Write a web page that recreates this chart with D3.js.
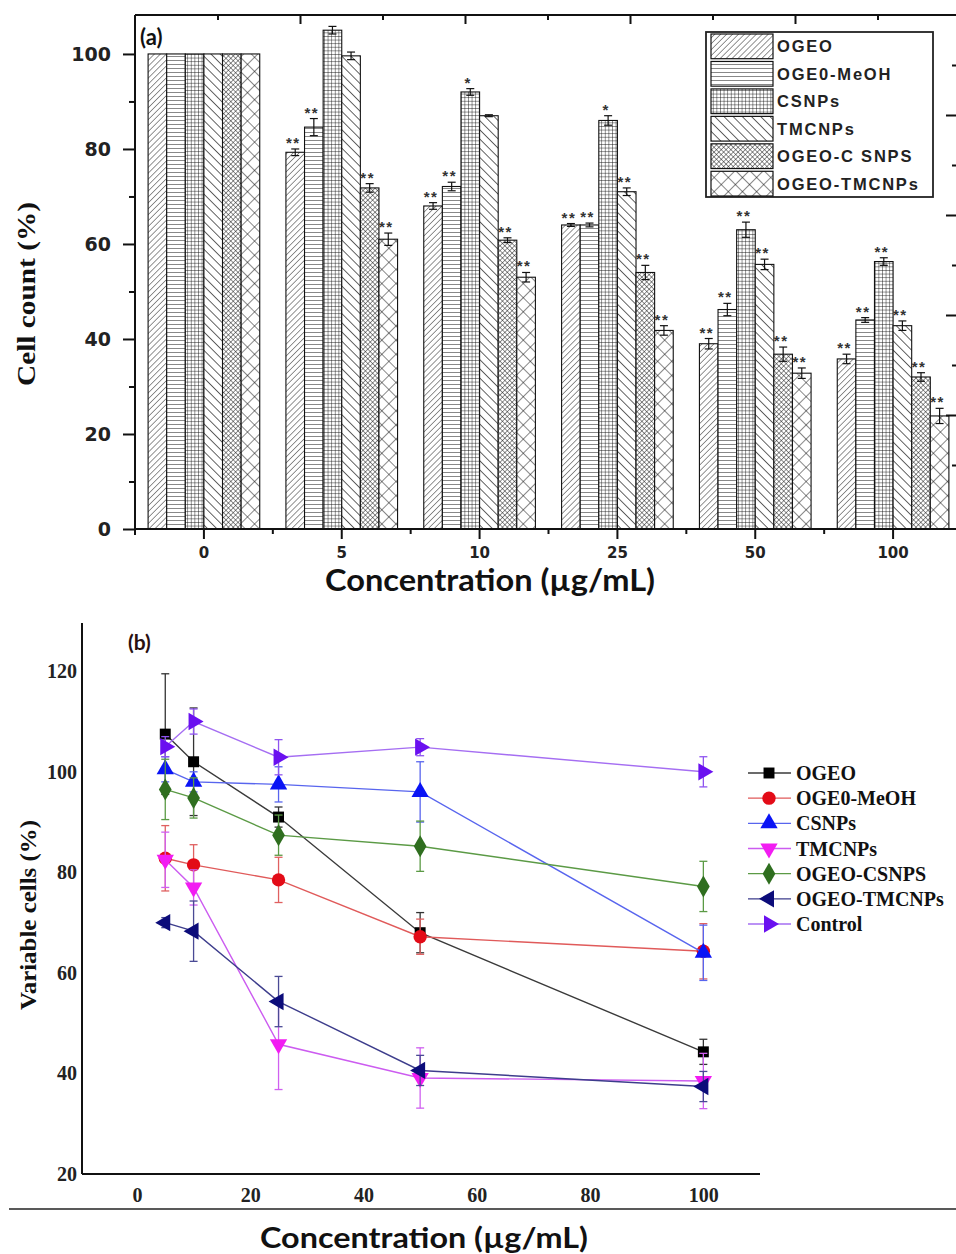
<!DOCTYPE html>
<html><head><meta charset="utf-8">
<script src="https://cdn.jsdelivr.net/npm/d3@7"></script>
<style>html,body{margin:0;padding:0;background:#fff;}svg{display:block;}</style>
</head><body>
<svg id="chart" width="956" height="1254"></svg>
<script>
// ---------- Panel (a) data ----------
const concA = ["0", "5", "10", "25", "50", "100"];
const seriesA = ["OGEO", "OGE0-MeOH", "CSNPs", "TMCNPs", "OGEO-C SNPS", "OGEO-TMCNPs"];
const valOGEO   = [100, 79.3, 68,   64,   39,   35.8];
const valMeOH   = [100, 84.6, 72.1, 64,   46.2, 44];
const valCSNPs  = [100, 105,  92,   86,   63,   56.3];
const valTMCNPs = [100, 99.6, 87,   71,   55.7, 42.8];
const valOCS    = [100, 71.8, 60.8, 54,   36.8, 32];
const valOTM    = [100, 61,   53,   41.8, 32.8, 23.8];
const errOGEO   = [0, 0.7, 0.7, 0.3, 1.1, 1.0];
const errMeOH   = [0, 1.8, 0.9, 0.4, 1.3, 0.5];
const errCSNPs  = [0, 0.8, 0.7, 1.0, 1.6, 0.8];
const errTMCNPs = [0, 0.8, 0.2, 0.8, 1.1, 1.0];
const errOCS    = [0, 0.9, 0.5, 1.5, 1.5, 0.9];
const errOTM    = [0, 1.3, 1.0, 1.0, 1.1, 1.6];
const starsA = [
  ["", "", "", "", "", ""],
  ["**", "**", "", "", "**", "**"],
  ["**", "**", "*", "", "**", "**"],
  ["**", "**", "*", "**", "**", "**"],
  ["**", "**", "**", "**", "**", "**"],
  ["**", "**", "**", "**", "**", "**"]
];
const yTicksA = [0, 20, 40, 60, 80, 100];

// ---------- Panel (b) data ----------
const concB = [5, 10, 25, 50, 100];
const seriesB = ["OGEO", "OGE0-MeOH", "CSNPs", "TMCNPs", "OGEO-CSNPS", "OGEO-TMCNPs", "Control"];
const bOGEO   = [107.5, 102,  91,   68,   44.3];
const bMeOH   = [82.8,  81.5, 78.5, 67.2, 64.3];
const bCSNPs  = [100.5, 98,   97.5, 96,   64];
const bTMCNPs = [82.5,  77,   45.8, 39.1, 38.5];
const bOCS    = [96.5,  94.8, 87.4, 85.2, 77.2];
const bOTM    = [70,    68.3, 54.3, 40.6, 37.4];
const bCtrl   = [105,   110,  102.9, 104.9, 100];
const eOGEO   = [12, 10.7, 2, 4, 2.5];
const eMeOH   = [6.5, 4, 4.5, 3.5, 5.5];
const eCSNPs  = [2.5, 2, 3.5, 6, 5.5];
const eTMCNPs = [5.5, 3.5, 9, 6, 5.5];
const eOCS    = [6, 4, 4, 5, 5];
const eOTM    = [1, 6, 5, 3, 3];
const eCtrl   = [2, 2.5, 3.5, 1.7, 3];
const xTicksB = [0, 20, 40, 60, 80, 100];
const yTicksB = [20, 40, 60, 80, 100, 120];

// ---------- build ----------
const svg = d3.select("#chart");
const defs = svg.append("defs");

function linePattern(id, size, angle, sw, both) {
  const p = defs.append("pattern").attr("id", id).attr("patternUnits", "userSpaceOnUse")
    .attr("width", size).attr("height", size)
    .attr("patternTransform", `rotate(${angle})`);
  p.append("rect").attr("width", size).attr("height", size).attr("fill", "#fff");
  p.append("line").attr("x1", 0).attr("y1", 0).attr("x2", 0).attr("y2", size)
    .attr("stroke", "#111").attr("stroke-width", sw);
  if (both) p.append("line").attr("x1", 0).attr("y1", 0).attr("x2", size).attr("y2", 0)
    .attr("stroke", "#111").attr("stroke-width", sw);
}
linePattern("pat0", 4.2, 45, 0.9, false);   // ///
linePattern("pat1", 4, 90, 1.0, false);     // horizontal
linePattern("pat2", 3.6, 0, 0.9, true);     // grid
linePattern("pat3", 6.5, -45, 1.3, false);  // \\\
linePattern("pat4", 3.4, 45, 0.9, true);    // fine diamond mesh
linePattern("pat5", 10, 45, 1.0, true);     // crosshatch X
const patIds = ["pat0", "pat1", "pat2", "pat3", "pat4", "pat5"];

const valsA = [valOGEO, valMeOH, valCSNPs, valTMCNPs, valOCS, valOTM];
const errsA = [errOGEO, errMeOH, errCSNPs, errTMCNPs, errOCS, errOTM];

const aLeft = 135, aRight = 962, aTop = 15, aBottom = 529;
const xA = d3.scaleBand().domain(concA).range([aLeft, aRight]).paddingInner(0.19).paddingOuter(0.095);
const xSub = d3.scaleBand().domain(d3.range(6)).range([0, xA.bandwidth()]);
const yA = d3.scaleLinear().domain([0, 108.2]).range([aBottom, aTop]);

const gA = svg.append("g");
const barData = [];
concA.forEach((c, gi) => seriesA.forEach((s, si) => barData.push({c, gi, si, v: valsA[si][gi], e: errsA[si][gi], star: starsA[gi][si]})));

gA.selectAll("rect.bar").data(barData).enter().append("rect")
  .attr("x", d => xA(d.c) + xSub(d.si))
  .attr("y", d => yA(d.v))
  .attr("width", xSub.bandwidth())
  .attr("height", d => yA(0) - yA(d.v))
  .attr("fill", d => `url(#${patIds[d.si]})`)
  .attr("stroke", "#111").attr("stroke-width", 1.1);

const errBars = barData.filter(d => d.e > 0);
const eg = gA.selectAll("g.err").data(errBars).enter().append("g").attr("stroke", "#111").attr("stroke-width", 1.2);
eg.append("line").attr("x1", d => xA(d.c) + xSub(d.si) + xSub.bandwidth()/2).attr("x2", d => xA(d.c) + xSub(d.si) + xSub.bandwidth()/2)
  .attr("y1", d => yA(d.v - d.e)).attr("y2", d => yA(d.v + d.e));
eg.append("line").attr("x1", d => xA(d.c) + xSub(d.si) + xSub.bandwidth()/2 - 4).attr("x2", d => xA(d.c) + xSub(d.si) + xSub.bandwidth()/2 + 4)
  .attr("y1", d => yA(d.v + d.e)).attr("y2", d => yA(d.v + d.e));
eg.append("line").attr("x1", d => xA(d.c) + xSub(d.si) + xSub.bandwidth()/2 - 4).attr("x2", d => xA(d.c) + xSub(d.si) + xSub.bandwidth()/2 + 4)
  .attr("y1", d => yA(d.v - d.e)).attr("y2", d => yA(d.v - d.e));

gA.selectAll("text.star").data(barData.filter(d => d.star)).enter().append("text")
  .attr("x", d => xA(d.c) + xSub(d.si) + xSub.bandwidth()/2 - 2)
  .attr("y", d => yA(d.v + d.e) - 1)
  .attr("text-anchor", "middle")
  .attr("font-family", "Liberation Sans, Arial, sans-serif").attr("font-size", 15).attr("font-weight", "bold")
  .attr("letter-spacing", 1.5).attr("fill", "#333")
  .text(d => d.star);

// axes panel (a)
const axisStyle = g => { g.selectAll("path,line").attr("stroke", "#111").attr("stroke-width", 2); };
const yAxisA = gA.append("g").attr("transform", `translate(${aLeft},0)`)
  .call(d3.axisLeft(yA).tickValues(yTicksA).tickSize(12).tickSizeOuter(0).tickPadding(12));
yAxisA.select(".domain").attr("d", `M0,${aTop}V${aBottom + 6}`);
yAxisA.call(axisStyle);
yAxisA.selectAll("text").attr("font-family", "DejaVu Sans, sans-serif").attr("font-weight", "bold").attr("font-size", 19).attr("fill", "#222");
// minor y ticks
gA.append("g").attr("transform", `translate(${aLeft},0)`)
  .call(d3.axisLeft(yA).tickValues([10, 30, 50, 70, 90]).tickSize(6).tickFormat(""))
  .call(g => g.select(".domain").remove()).call(axisStyle);

const xAxisA = gA.append("g").attr("transform", `translate(0,${aBottom})`)
  .call(d3.axisBottom(xA).tickSize(10).tickSizeOuter(0).tickPadding(8));
xAxisA.select(".domain").attr("d", `M${aLeft},0H956`);
xAxisA.call(axisStyle);
xAxisA.selectAll("text").attr("font-family", "DejaVu Sans, sans-serif").attr("font-weight", "bold").attr("font-size", 15).attr("fill", "#222");
// minor x ticks at group boundaries
const bounds = concA.slice(1).map(c => xA(c) - xA.step() * xA.paddingInner() / 2);
gA.selectAll("line.minx").data(bounds).enter().append("line")
  .attr("x1", d => d).attr("x2", d => d).attr("y1", aBottom).attr("y2", aBottom + 5)
  .attr("stroke", "#111").attr("stroke-width", 2);

// top frame axis with ticks
const xTop = d3.scaleLinear().domain([0, 10]).range([aLeft, aLeft + 825]);
const topAx = gA.append("g").attr("transform", `translate(0,${aTop})`)
  .call(d3.axisTop(xTop).tickValues(d3.range(1, 10)).tickSize(-7).tickSizeOuter(0).tickFormat(""));
topAx.select(".domain").attr("d", `M${aLeft},0H956`);
topAx.selectAll(".tick line").attr("y2", (d) => d % 2 === 0 ? 9 : 5);
topAx.call(axisStyle);
// right side ticks (partially cropped axis)
const yRight = d3.scaleLinear().domain([0, 10]).range([515, 15]);
const rAx = gA.append("g").attr("transform", `translate(956,0)`)
  .call(d3.axisRight(yRight).tickValues(d3.range(1, 10)).tickSize(-10).tickFormat(""));
rAx.select(".domain").remove();
rAx.selectAll(".tick line").attr("x2", d => d % 2 === 0 ? -10 : -4);
rAx.call(axisStyle);

// labels (a)
svg.append("text").attr("x", 140).attr("y", 45).attr("font-family", "Lato, Open Sans, sans-serif")
  .attr("font-weight", "bold").attr("font-size", 22).attr("fill", "#111").text("(a)");
svg.append("text").attr("transform", "translate(35,294) rotate(-90)").attr("text-anchor", "middle")
  .attr("font-family", "Liberation Serif, Times New Roman, serif").attr("font-weight", "bold").attr("font-size", 26)
  .attr("textLength", 184).attr("lengthAdjust", "spacingAndGlyphs").attr("fill", "#111").text("Cell count (%)");
svg.append("text").attr("x", 490).attr("y", 591).attr("text-anchor", "middle")
  .attr("font-family", "Lato, Open Sans, sans-serif").attr("font-weight", "bold").attr("font-size", 30)
  .attr("textLength", 330).attr("lengthAdjust", "spacingAndGlyphs").attr("fill", "#111").text("Concentration (µg/mL)");

// legend (a)
const legA = svg.append("g");
legA.append("rect").attr("x", 706).attr("y", 32).attr("width", 227).attr("height", 165)
  .attr("fill", "#fff").attr("stroke", "#222").attr("stroke-width", 1.8);
const legRowA = d3.scaleBand().domain(d3.range(6)).range([34, 196]).paddingInner(0.1);
seriesA.forEach((s, i) => {
  legA.append("rect").attr("x", 711).attr("y", legRowA(i)).attr("width", 62).attr("height", legRowA.bandwidth())
    .attr("fill", `url(#${patIds[i]})`).attr("stroke", "#111").attr("stroke-width", 1.2);
  legA.append("text").attr("x", 777).attr("y", legRowA(i) + legRowA.bandwidth()/2 + 6)
    .attr("font-family", "Liberation Sans, Arial, sans-serif").attr("font-weight", "bold").attr("font-size", 16.5)
    .attr("letter-spacing", 1.8).attr("fill", "#222").text(s);
});

// ---------- Panel (b) ----------
const bLeft = 82, bRight = 760, bTop = 623, bBottom = 1174;
const xB = d3.scaleLinear().domain([-9.7, 110]).range([bLeft, bRight]);
const yB = d3.scaleLinear().domain([20, 129.6]).range([bBottom, bTop]);
const gB = svg.append("g");

const valsB = [bOGEO, bMeOH, bCSNPs, bTMCNPs, bOCS, bOTM, bCtrl];
const errsB = [eOGEO, eMeOH, eCSNPs, eTMCNPs, eOCS, eOTM, eCtrl];
const markColor = ["#000000", "#e30b17", "#0a14f5", "#f21cf2", "#2f6e1f", "#0c0c7a", "#6a10f0"];
const lineColor = ["#3a3a3a", "#e05a5a", "#5865ee", "#cc5cf0", "#5b9a45", "#3d3d8c", "#a56ef2"];
const errColor  = ["#333333", "#e06060", "#5865ee", "#d060f0", "#5b9a45", "#4a4a95", "#8f55f0"];
const symTypes = [d3.symbolSquare, d3.symbolCircle, d3.symbolTriangle, d3.symbolTriangle, d3.symbolDiamond, d3.symbolTriangle, d3.symbolTriangle];
const symRot = [0, 0, 0, 180, 0, -90, 90];
const symSize = [120, 140, 130, 130, 140, 130, 130];

const lineGen = d3.line().x(d => xB(d.x)).y(d => yB(d.y));
valsB.forEach((vals, si) => {
  const pts = concB.map((x, i) => ({x, y: vals[i], e: errsB[si][i]}));
  const g = gB.append("g");
  g.append("path").datum(pts).attr("d", lineGen).attr("fill", "none")
    .attr("stroke", lineColor[si]).attr("stroke-width", 1.4);
  const eb = g.selectAll("g.eb").data(pts).enter().append("g").attr("stroke", errColor[si]).attr("stroke-width", 1.3);
  eb.append("line").attr("x1", d => xB(d.x)).attr("x2", d => xB(d.x)).attr("y1", d => yB(d.y - d.e)).attr("y2", d => yB(d.y + d.e));
  [1, -1].forEach(sg => eb.append("line").attr("x1", d => xB(d.x) - 4).attr("x2", d => xB(d.x) + 4)
    .attr("y1", d => yB(d.y + sg * d.e)).attr("y2", d => yB(d.y + sg * d.e)));
  g.selectAll("path.m").data(pts).enter().append("path")
    .attr("d", d3.symbol().type(symTypes[si]).size(symSize[si]))
    .attr("transform", d => `translate(${xB(d.x)},${yB(d.y)}) rotate(${symRot[si]})`)
    .attr("fill", markColor[si]);
});

// axes (b)
const xAxB = gB.append("g").attr("transform", `translate(0,${bBottom})`)
  .call(d3.axisBottom(xB).tickValues(xTicksB).tickSize(0).tickPadding(14));
xAxB.select(".domain").attr("d", `M${bLeft},0H${bRight}`).attr("stroke", "#111").attr("stroke-width", 2);
xAxB.selectAll("text").attr("font-family", "Liberation Serif, Times New Roman, serif").attr("font-weight", "bold").attr("font-size", 20).attr("fill", "#222");
const yAxB = gB.append("g").attr("transform", `translate(${bLeft},0)`)
  .call(d3.axisLeft(yB).tickValues(yTicksB).tickSize(0).tickPadding(5));
yAxB.select(".domain").attr("d", `M0,${bTop}V${bBottom}`).attr("stroke", "#111").attr("stroke-width", 2);
yAxB.selectAll("text").attr("font-family", "Liberation Serif, Times New Roman, serif").attr("font-weight", "bold").attr("font-size", 20).attr("fill", "#222");

svg.append("text").attr("x", 128).attr("y", 650).attr("font-family", "Lato, Open Sans, sans-serif")
  .attr("font-weight", "bold").attr("font-size", 21).attr("fill", "#2a1010").text("(b)");
svg.append("text").attr("transform", "translate(36,915) rotate(-90)").attr("text-anchor", "middle")
  .attr("font-family", "Liberation Serif, Times New Roman, serif").attr("font-weight", "bold").attr("font-size", 23)
  .attr("textLength", 190).attr("lengthAdjust", "spacingAndGlyphs").attr("fill", "#111").text("Variable cells (%)");

// legend (b)
const legB = svg.append("g");
const legRowB = d3.scalePoint().domain(d3.range(7)).range([773, 924]);
seriesB.forEach((s, i) => {
  const y = legRowB(i);
  legB.append("line").attr("x1", 748).attr("x2", 791).attr("y1", y).attr("y2", y).attr("stroke", lineColor[i]).attr("stroke-width", 1.4);
  legB.append("path").attr("d", d3.symbol().type(symTypes[i]).size(symSize[i]))
    .attr("transform", `translate(769,${y}) rotate(${symRot[i]})`).attr("fill", markColor[i]);
  legB.append("text").attr("x", 796).attr("y", y + 7)
    .attr("font-family", "Liberation Serif, Times New Roman, serif").attr("font-weight", "bold").attr("font-size", 20)
    .attr("fill", "#111").text(s);
});

// separator and x label (b)
svg.append("line").attr("x1", 9).attr("x2", 956).attr("y1", 1209).attr("y2", 1209).attr("stroke", "#222").attr("stroke-width", 1.6);
svg.append("text").attr("x", 424).attr("y", 1248).attr("text-anchor", "middle")
  .attr("font-family", "Lato, Open Sans, sans-serif").attr("font-weight", "bold").attr("font-size", 28)
  .attr("textLength", 328).attr("lengthAdjust", "spacingAndGlyphs").attr("fill", "#111").text("Concentration (µg/mL)");
</script>
</body></html>
